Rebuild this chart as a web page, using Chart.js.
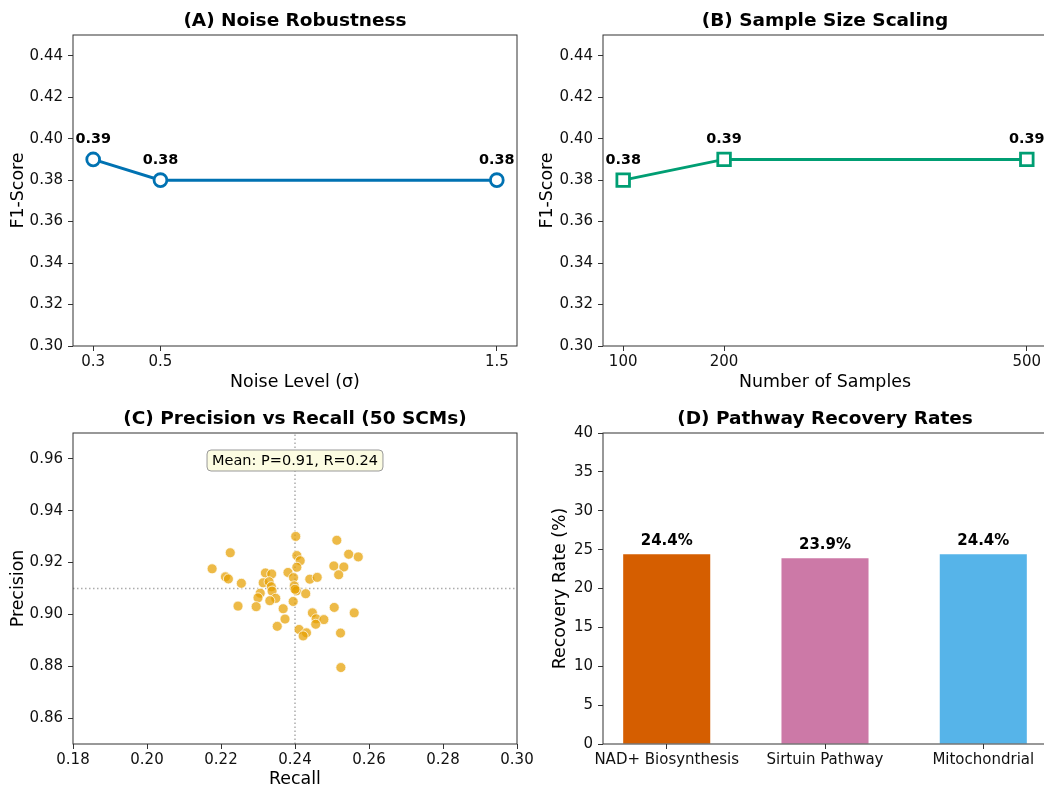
<!DOCTYPE html>
<html>
<head>
<meta charset="utf-8">
<title>SCM evaluation panels</title>
<script src="https://cdn.jsdelivr.net/npm/chart.js@4.4.0/dist/chart.umd.min.js"></script>
<style>
  html, body { margin: 0; padding: 0; background: #fff; overflow: hidden; width: 1044px; height: 787px; }
  canvas { position: absolute; left: 0; top: 0; }
</style>
</head>
<body>
<canvas id="chartA" width="1060" height="800"></canvas>
<canvas id="chartB" width="1060" height="800"></canvas>
<canvas id="chartC" width="1060" height="800"></canvas>
<canvas id="chartD" width="1060" height="800"></canvas>
<script>
// ---- data ----
const noiseLevels = [0.3, 0.5, 1.5];
const noiseF1 = [0.39, 0.38, 0.38];

const sampleSizes = [100, 200, 500];
const sampleF1 = [0.38, 0.39, 0.39];

const f1Ticks = [0.30, 0.32, 0.34, 0.36, 0.38, 0.40, 0.42, 0.44];

// precision / recall of the 50 SCMs
const recallVals = [
  0.2402, 0.2513, 0.2225, 0.2545, 0.2571, 0.2405, 0.2414, 0.2176, 0.2405, 0.2505,
  0.2532, 0.2320, 0.2337, 0.2381, 0.2518, 0.2212, 0.2220, 0.2396, 0.2440, 0.2460,
  0.2255, 0.2314, 0.2330, 0.2336, 0.2398, 0.2338, 0.2404, 0.2306, 0.2429, 0.2300,
  0.2348, 0.2332, 0.2395, 0.2246, 0.2295, 0.2506, 0.2368, 0.2560, 0.2447, 0.2373,
  0.2457, 0.2478, 0.2456, 0.2352, 0.2411, 0.2431, 0.2422, 0.2523, 0.2524, 0.2400
];
const precisionVals = [
  0.9301, 0.9286, 0.9238, 0.9232, 0.9222, 0.9227, 0.9207, 0.9176, 0.9182, 0.9187,
  0.9183, 0.9160, 0.9156, 0.9162, 0.9153, 0.9145, 0.9137, 0.9142, 0.9136, 0.9143,
  0.9120, 0.9122, 0.9126, 0.9107, 0.9110, 0.9090, 0.9091, 0.9082, 0.9080, 0.9064,
  0.9062, 0.9053, 0.9050, 0.9032, 0.9030, 0.9027, 0.9022, 0.9006, 0.9006, 0.8982,
  0.8983, 0.8980, 0.8962, 0.8954, 0.8942, 0.8929, 0.8917, 0.8928, 0.8795, 0.9097
];
const meanPrecision = 0.91;
const meanRecall = 0.24;
const recallTicks = [0.18, 0.20, 0.22, 0.24, 0.26, 0.28, 0.30];
const precisionTicks = [0.86, 0.88, 0.90, 0.92, 0.94, 0.96];

const pathways = ['NAD+ Biosynthesis', 'Sirtuin Pathway', 'Mitochondrial'];
const recoveryRates = [24.4, 23.9, 24.4];
const recoveryTicks = [0, 5, 10, 15, 20, 25, 30, 35, 40];

// ---- shared setup ----
const CANVAS_W = 1060;
const CANVAS_H = 800;
const FONT = "'DejaVu Sans', 'Liberation Sans', sans-serif";
const TICK_SIZE = 15;
const LABEL_SIZE = 17.4;

Chart.defaults.font.family = FONT;
Chart.defaults.color = '#000';
Chart.defaults.animation = false;
Chart.defaults.plugins.legend.display = false;
Chart.defaults.plugins.tooltip.enabled = false;

// box around the plot area, like matplotlib spines
const frame = {
  id: 'frame',
  afterDraw(chart) {
    const a = chart.chartArea;
    const ctx = chart.ctx;
    ctx.save();
    ctx.strokeStyle = '#333';
    ctx.lineWidth = 1;
    ctx.strokeRect(a.left, a.top, a.right - a.left, a.bottom - a.top);
    ctx.restore();
  }
};

const panelTitle = {
  id: 'panelTitle',
  afterDraw(chart, args, opts) {
    const a = chart.chartArea;
    const ctx = chart.ctx;
    ctx.save();
    ctx.font = 'bold 18.5px ' + FONT;
    ctx.fillStyle = '#000';
    ctx.textAlign = 'center';
    ctx.textBaseline = 'middle';
    ctx.fillText(opts.text, (a.left + a.right) / 2, a.top - 13.5);
    ctx.restore();
  }
};

// bold value labels above points / bars
const valueLabels = {
  id: 'valueLabels',
  afterDatasetsDraw(chart, args, opts) {
    const ctx = chart.ctx;
    const meta = chart.getDatasetMeta(0);
    const values = chart.data.datasets[0].data;
    ctx.save();
    ctx.font = 'bold ' + opts.size + 'px ' + FONT;
    ctx.fillStyle = '#000';
    ctx.textAlign = 'center';
    ctx.textBaseline = 'middle';
    meta.data.forEach((el, i) => {
      const v = values[i].y;
      ctx.fillText(v.toFixed(opts.decimals) + (opts.suffix || ''), el.x, el.y - opts.offset);
    });
    ctx.restore();
  }
};

// "Mean: ..." box in panel C
const meanBox = {
  id: 'meanBox',
  afterDraw(chart, args, opts) {
    const a = chart.chartArea;
    const ctx = chart.ctx;
    ctx.save();
    ctx.font = '14.5px ' + FONT;
    const w = ctx.measureText(opts.text).width + 10;
    const h = 21;
    const cx = (a.left + a.right) / 2;
    const x = cx - w / 2;
    const y = a.top + 17;
    ctx.beginPath();
    ctx.roundRect(x, y, w, h, 4);
    ctx.fillStyle = '#fcfce2';
    ctx.fill();
    ctx.strokeStyle = '#999';
    ctx.lineWidth = 1;
    ctx.stroke();
    ctx.fillStyle = '#000';
    ctx.textAlign = 'center';
    ctx.textBaseline = 'middle';
    ctx.fillText(opts.text, cx, y + h / 2 + 0.5);
    ctx.restore();
  }
};

function fixTicks(list) {
  return function(scale) {
    scale.ticks = list.map(v => ({ value: v }));
  };
}

function fixSize(size) {
  return function(scale) {
    if (scale.isHorizontal()) scale.height = size;
    else scale.width = size;
    scale.paddingLeft = 0;
    scale.paddingRight = 0;
    scale.paddingTop = 0;
    scale.paddingBottom = 0;
  };
}

function axisGrid() {
  return { drawOnChartArea: false, tickLength: 5, color: '#333', lineWidth: 1 };
}

function xAxis(opts) {
  return {
    type: 'linear',
    min: opts.min,
    max: opts.max,
    afterBuildTicks: fixTicks(opts.ticks),
    afterFit: fixSize(opts.size),
    grid: axisGrid(),
    border: { display: false },
    ticks: {
      font: { size: TICK_SIZE },
      color: '#111',
      padding: 2,
      autoSkip: false,
      maxRotation: 0,
      minRotation: 0,
      callback: opts.format
    },
    title: opts.title ? {
      display: true,
      text: opts.title,
      font: { size: LABEL_SIZE },
      padding: { top: 0, bottom: 0 }
    } : { display: false }
  };
}

function yAxis(opts) {
  return {
    type: 'linear',
    min: opts.min,
    max: opts.max,
    afterBuildTicks: fixTicks(opts.ticks),
    afterFit: fixSize(opts.size),
    grid: axisGrid(),
    border: { display: false },
    ticks: {
      font: { size: TICK_SIZE },
      color: '#111',
      padding: 5,
      callback: opts.format
    },
    title: {
      display: true,
      text: opts.title,
      font: { size: LABEL_SIZE },
      padding: { top: 0, bottom: 0 }
    }
  };
}

const fmt2 = v => v.toFixed(2);
const fmt1 = v => v.toFixed(1);

// ---- (A) Noise Robustness ----
new Chart(document.getElementById('chartA'), {
  type: 'line',
  data: {
    datasets: [{
      data: noiseLevels.map((x, i) => ({ x: x, y: noiseF1[i] })),
      borderColor: '#0072B2',
      borderWidth: 3,
      pointRadius: 6.4,
      pointBorderWidth: 2.8,
      pointBackgroundColor: '#fff',
      pointBorderColor: '#0072B2',
      tension: 0,
      clip: false
    }]
  },
  options: {
    responsive: false,
    layout: { padding: { left: 7.6, top: 35, right: CANVAS_W - 517, bottom: CANVAS_H - 392.9 } },
    scales: {
      x: xAxis({ min: 0.24, max: 1.56, ticks: noiseLevels, size: 46.9, format: fmt1, title: 'Noise Level (σ)' }),
      y: yAxis({ min: 0.30, max: 0.45, ticks: f1Ticks, size: 65.4, format: fmt2, title: 'F1-Score' })
    },
    plugins: {
      panelTitle: { text: '(A) Noise Robustness' },
      valueLabels: { decimals: 2, offset: 20, size: 14.4 }
    }
  },
  plugins: [frame, panelTitle, valueLabels]
});

// ---- (B) Sample Size Scaling ----
new Chart(document.getElementById('chartB'), {
  type: 'line',
  data: {
    datasets: [{
      data: sampleSizes.map((x, i) => ({ x: x, y: sampleF1[i] })),
      borderColor: '#009E73',
      borderWidth: 3,
      pointStyle: 'rect',
      pointRadius: 8.9,
      pointBorderWidth: 2.8,
      pointBackgroundColor: '#fff',
      pointBorderColor: '#009E73',
      tension: 0,
      clip: false
    }]
  },
  options: {
    responsive: false,
    layout: { padding: { left: 537.1, top: 35, right: CANVAS_W - 1047, bottom: CANVAS_H - 392.9 } },
    scales: {
      x: xAxis({ min: 80, max: 520, ticks: sampleSizes, size: 46.9, format: v => String(v), title: 'Number of Samples' }),
      y: yAxis({ min: 0.30, max: 0.45, ticks: f1Ticks, size: 65.9, format: fmt2, title: 'F1-Score' })
    },
    plugins: {
      panelTitle: { text: '(B) Sample Size Scaling' },
      valueLabels: { decimals: 2, offset: 20, size: 14.4 }
    }
  },
  plugins: [frame, panelTitle, valueLabels]
});

// ---- (C) Precision vs Recall ----
const refLine = {
  type: 'line',
  borderColor: 'rgba(128,128,128,0.65)',
  borderWidth: 1.5,
  borderDash: [1.5, 2.5],
  pointRadius: 0,
  order: 2
};

new Chart(document.getElementById('chartC'), {
  type: 'scatter',
  data: {
    datasets: [
      {
        data: recallVals.map((x, i) => ({ x: x, y: precisionVals[i] })),
        backgroundColor: 'rgba(230,159,0,0.72)',
        borderColor: 'rgba(255,255,255,0.9)',
        borderWidth: 0.8,
        pointRadius: 5,
        order: 0
      },
      Object.assign({ data: [{ x: meanRecall, y: 0.85 }, { x: meanRecall, y: 0.97 }] }, refLine),
      Object.assign({ data: [{ x: 0.18, y: meanPrecision }, { x: 0.30, y: meanPrecision }] }, refLine)
    ]
  },
  options: {
    responsive: false,
    layout: { padding: { left: 7.6, top: 433, right: CANVAS_W - 517, bottom: CANVAS_H - 790.4 } },
    scales: {
      x: xAxis({ min: 0.18, max: 0.30, ticks: recallTicks, size: 46.4, format: fmt2, title: 'Recall' }),
      y: yAxis({ min: 0.85, max: 0.97, ticks: precisionTicks, size: 65.4, format: fmt2, title: 'Precision' })
    },
    plugins: {
      panelTitle: { text: '(C) Precision vs Recall (50 SCMs)' },
      meanBox: { text: 'Mean: P=' + meanPrecision.toFixed(2) + ', R=' + meanRecall.toFixed(2) }
    }
  },
  plugins: [frame, panelTitle, meanBox]
});

// ---- (D) Pathway Recovery Rates ----
const dAxisX = xAxis({ min: -0.4025, max: 2.4025, ticks: [0, 1, 2], size: 30, format: v => pathways[v] || '' });
dAxisX.offset = false;
dAxisX.grid.offset = false;

new Chart(document.getElementById('chartD'), {
  type: 'bar',
  data: {
    datasets: [{
      data: recoveryRates.map((y, i) => ({ x: i, y: y })),
      backgroundColor: ['#D55E00', '#CC79A7', '#56B4E9'],
      borderWidth: 0,
      categoryPercentage: 1,
      barPercentage: 0.55
    }]
  },
  options: {
    responsive: false,
    layout: { padding: { left: 549.6, top: 433, right: CANVAS_W - 1047, bottom: CANVAS_H - 774 } },
    scales: {
      x: dAxisX,
      y: yAxis({ min: 0, max: 40, ticks: recoveryTicks, size: 53.4, format: v => String(v), title: 'Recovery Rate (%)' })
    },
    plugins: {
      panelTitle: { text: '(D) Pathway Recovery Rates' },
      valueLabels: { decimals: 1, suffix: '%', offset: 13, size: 15 }
    }
  },
  plugins: [frame, panelTitle, valueLabels]
});
</script>
</body>
</html>
